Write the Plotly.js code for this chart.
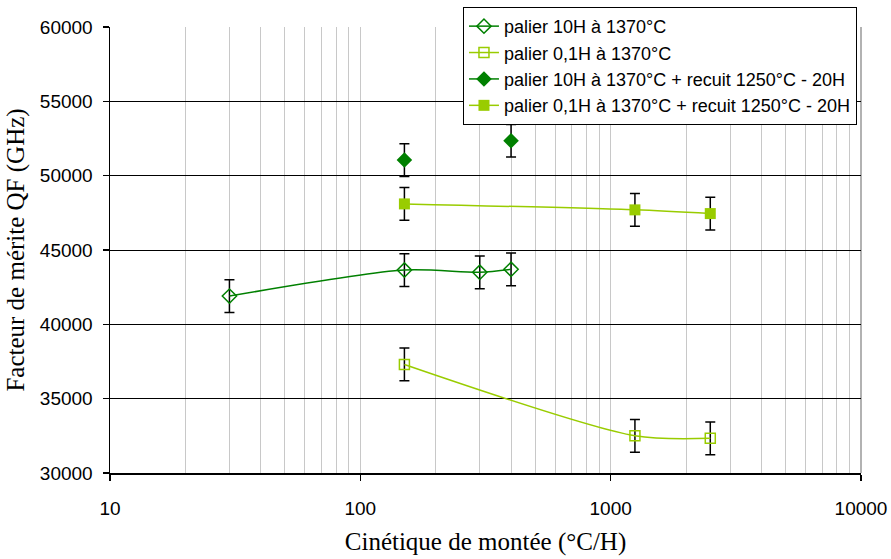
<!DOCTYPE html>
<html>
<head>
<meta charset="utf-8">
<script src="https://cdn.plot.ly/plotly-3.0.1.min.js"></script>
<style>
  html, body { margin: 0; padding: 0; background: #fff; }
  #chart { width: 891px; height: 559px; }
</style>
</head>
<body>
<div id="chart"></div>
<script>
// ---- data ----
const seriesNames = [
  "palier 10H à 1370°C",
  "palier 0,1H à 1370°C",
  "palier 10H à 1370°C + recuit 1250°C - 20H",
  "palier 0,1H à 1370°C + recuit 1250°C - 20H"
];
const x10H = [30, 150, 300, 400];
const y10H = [41900, 43650, 43500, 43700];
const x01H = [150, 1250, 2500];
const y01H = [37300, 32500, 32330];
const x10HR = [150, 400];
const y10HR = [51050, 52350];
const x01HR = [150, 1250, 2500];
const y01HR = [48100, 47700, 47450];
const errVal = 1100;
const xTickVals = [10, 100, 1000, 10000];
const xTickText = ["10", "100", "1000", "10000"];
const yTickVals = [30000, 35000, 40000, 45000, 50000, 55000, 60000];
const yTickText = ["30000", "35000", "40000", "45000", "50000", "55000", "60000"];

const darkGreen = "#008000";
const lightGreen = "#99CC00";

function errTrace(xs, ys) {
  return {
    x: xs, y: ys, type: "scatter", mode: "markers",
    marker: { size: 1, opacity: 0 },
    error_y: { type: "constant", value: errVal, color: "#000", thickness: 1.5, width: 5 },
    showlegend: false, hoverinfo: "skip"
  };
}
// unconnected points (gaps between them) so the legend still shows the line symbol
function withGaps(arr) {
  const out = [];
  arr.forEach((v, i) => { if (i > 0) out.push(null); out.push(v); });
  return out;
}

const traces = [
  errTrace(x10H, y10H),
  errTrace(x01H, y01H),
  errTrace(x10HR, y10HR),
  errTrace(x01HR, y01HR),
  {
    x: x10H, y: y10H, name: seriesNames[0], type: "scatter", mode: "lines+markers",
    line: { color: darkGreen, width: 1.5, shape: "spline", smoothing: 0.8 },
    marker: { symbol: "diamond-open", size: 11, color: darkGreen, line: { width: 1.5, color: darkGreen } }
  },
  {
    x: x01H, y: y01H, name: seriesNames[1], type: "scatter", mode: "lines+markers",
    line: { color: lightGreen, width: 1.5, shape: "spline", smoothing: 0.8 },
    marker: { symbol: "square-open", size: 10, color: lightGreen, line: { width: 1.5, color: lightGreen } }
  },
  {
    x: withGaps(x10HR), y: withGaps(y10HR), name: seriesNames[2], type: "scatter", mode: "lines+markers",
    connectgaps: false,
    line: { color: darkGreen, width: 1.5 },
    marker: { symbol: "diamond", size: 12, color: darkGreen, line: { width: 0 } }
  },
  {
    x: x01HR, y: y01HR, name: seriesNames[3], type: "scatter", mode: "lines+markers",
    line: { color: lightGreen, width: 1.5, shape: "spline", smoothing: 0.8 },
    marker: { symbol: "square", size: 11, color: lightGreen, line: { width: 0 } }
  }
];

const layout = {
  width: 891, height: 559,
  paper_bgcolor: "#fff", plot_bgcolor: "#fff",
  margin: { l: 110, r: 30, t: 27, b: 86, autoexpand: false },
  font: { family: "Liberation Sans, Arial, sans-serif", color: "#000" },
  xaxis: {
    type: "log", range: [1, 4],
    tickvals: xTickVals, ticktext: xTickText,
    showgrid: false, zeroline: false,
    showline: true, linecolor: "#000", linewidth: 1.5,
    ticks: "outside", ticklen: 6, tickwidth: 1.5, tickcolor: "#000",
    ticklabelstandoff: 12,
    tickfont: { family: "Liberation Sans, Arial, sans-serif", size: 19, color: "#000" },
    minor: { showgrid: true, gridcolor: "#c8c8c8", gridwidth: 1, dtick: "D1", ticks: "" },
    title: { text: "Cinétique de montée (°C/H)", standoff: 14,
      font: { family: "Liberation Serif, Times New Roman, serif", size: 25, color: "#000" } }
  },
  yaxis: {
    range: [30000, 60000],
    tickvals: yTickVals, ticktext: yTickText,
    showgrid: true, gridcolor: "#000", gridwidth: 1,
    zeroline: false,
    showline: true, linecolor: "#000", linewidth: 1.5,
    ticks: "outside", ticklen: 6, tickwidth: 1.5, tickcolor: "#000",
    ticklabelstandoff: 6,
    tickfont: { family: "Liberation Sans, Arial, sans-serif", size: 19, color: "#000" },
    title: { text: "Facteur de mérite QF (GHz)", standoff: 8,
      font: { family: "Liberation Serif, Times New Roman, serif", size: 25, color: "#000" } }
  },
  legend: {
    x: 0.47, xanchor: "left", y: 1.045, yanchor: "top",
    bgcolor: "#fff", bordercolor: "#000", borderwidth: 1,
    font: { family: "Liberation Sans, Arial, sans-serif", size: 18, color: "#000" },
    itemwidth: 30, tracegroupgap: 0
  },
  shapes: [
    { type: "line", xref: "paper", yref: "paper", x0: 1, x1: 1, y0: 0, y1: 1,
      line: { color: "#999", width: 1.5 }, layer: "below" }
  ],
  showlegend: true
};

Plotly.newPlot("chart", traces, layout, { displayModeBar: false, staticPlot: true });
</script>
</body>
</html>
